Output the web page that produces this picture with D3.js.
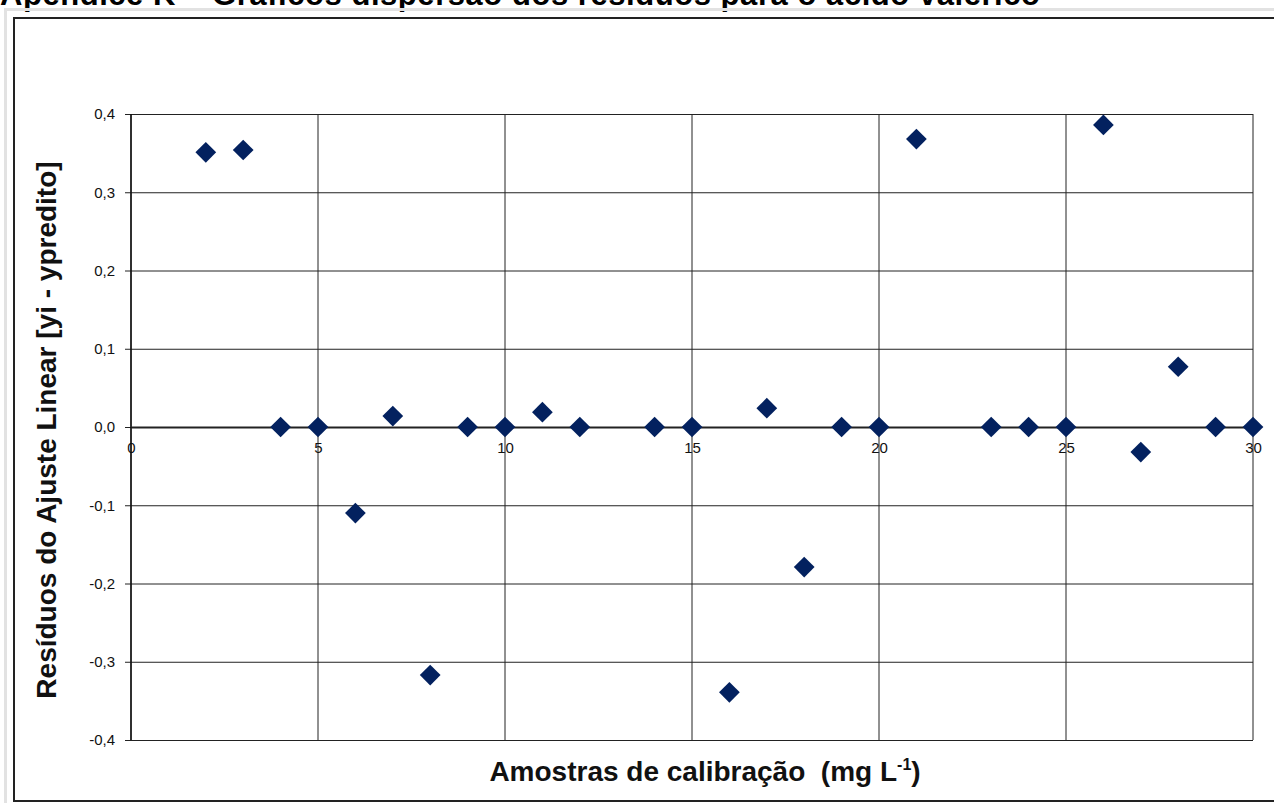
<!DOCTYPE html>
<html>
<head>
<meta charset="utf-8">
<script src="https://cdn.jsdelivr.net/npm/d3@7"></script>
<style>
  body { margin: 0; background: #fff; }
  svg { display: block; font-family: "Liberation Sans", Arial, sans-serif; }
</style>
</head>
<body>
<div id="chart"></div>
<script>
// residuals of the linear fit, per calibration sample
var sampleX = [2, 3, 4, 5, 6, 7, 8, 9, 10, 11, 12, 14, 15, 16, 17, 18, 19, 20, 21, 23, 24, 25, 26, 27, 28, 29, 30];
var residualY = [0.351, 0.354, 0, 0, -0.110, 0.014, -0.317, 0, 0, 0.019, 0, 0, 0, -0.339, 0.024, -0.179, 0, 0, 0.368, 0, 0, 0, 0.386, -0.032, 0.077, 0, 0];
var xTicks = [0, 5, 10, 15, 20, 25, 30];
var yTicks = [-0.4, -0.3, -0.2, -0.1, 0, 0.1, 0.2, 0.3, 0.4];

var width = 1274, height = 803;
var plot = { left: 131, right: 1253, top: 114, bottom: 740 };

var svg = d3.select("#chart").append("svg")
    .attr("width", width)
    .attr("height", height);

// page title (cut off at top in the scan)
svg.append("text")
    .attr("x", 0)
    .attr("y", 5)
    .attr("textLength", 1040)
    .style("font-size", "31px")
    .style("font-weight", "bold")
    .text("Apêndice K – Gráficos dispersão dos resíduos para o ácido valérico");

// outer light frame + chart frame
svg.append("rect").attr("x", 5.5).attr("y", 9.5).attr("width", 1280).attr("height", 800)
    .attr("fill", "none").attr("stroke", "#e2e2e2").attr("stroke-width", 3);
svg.append("rect").attr("x", 14).attr("y", 18).attr("width", 1280).attr("height", 783)
    .attr("fill", "#fff").attr("stroke", "#222").attr("stroke-width", 2);

var x = d3.scaleLinear().domain([0, 30]).range([plot.left, plot.right]);
var y = d3.scaleLinear().domain([-0.4, 0.4]).range([plot.bottom, plot.top]);

var fmt = function (d) { return d3.format(".1f")(d).replace(".", ",").replace("−", "-"); };

// horizontal grid + y labels
svg.append("g")
    .attr("transform", "translate(" + plot.left + ",0)")
    .call(d3.axisLeft(y).tickValues(yTicks).tickSize(-(plot.right - plot.left)).tickSizeOuter(0).tickFormat(fmt).tickPadding(16))
    .call(function (g) { g.select(".domain").remove(); })
    .call(function (g) {
        g.selectAll(".tick line").attr("stroke", "#222").attr("x1", -6);
        g.selectAll(".tick text").style("font-size", "15px").attr("fill", "#111");
    });

// vertical grid
svg.append("g")
    .selectAll("line")
    .data(xTicks)
    .join("line")
    .attr("x1", function (d) { return x(d); })
    .attr("x2", function (d) { return x(d); })
    .attr("y1", plot.top)
    .attr("y2", plot.bottom)
    .attr("stroke", "#222");

// left axis line
svg.append("line")
    .attr("x1", plot.left).attr("x2", plot.left)
    .attr("y1", plot.top).attr("y2", plot.bottom)
    .attr("stroke", "#111").attr("stroke-width", 1.5);

// x axis at zero
svg.append("g")
    .attr("transform", "translate(0," + y(0) + ")")
    .call(d3.axisBottom(x).tickValues(xTicks).tickSize(0).tickPadding(15))
    .call(function (g) {
        g.select(".domain").attr("stroke", "#222").attr("stroke-width", 2);
        g.selectAll(".tick text").style("font-size", "15px").attr("fill", "#111");
    });

// points
svg.append("g")
    .selectAll("path")
    .data(sampleX)
    .join("path")
    .attr("d", d3.symbol().type(d3.symbolSquare).size(215))
    .attr("transform", function (d, i) { return "translate(" + x(d) + "," + y(residualY[i]) + ") rotate(45)"; })
    .attr("fill", "#03215f");

// axis titles
var xt = svg.append("text")
    .attr("x", 705)
    .attr("y", 781)
    .attr("text-anchor", "middle")
    .style("font-size", "28px")
    .style("font-weight", "bold")
    .style("white-space", "pre")
    .attr("fill", "#111");
xt.append("tspan").text("Amostras de calibração  (mg L");
xt.append("tspan").attr("dy", -11).style("font-size", "16px").text("-1");
xt.append("tspan").attr("dy", 11).text(")");

svg.append("text")
    .attr("transform", "translate(56," + 430 + ") rotate(-90)")
    .attr("text-anchor", "middle")
    .style("font-size", "28px")
    .style("font-weight", "bold")
    .attr("fill", "#111")
    .text("Resíduos do Ajuste Linear [yi - ypredito]");
</script>
</body>
</html>
